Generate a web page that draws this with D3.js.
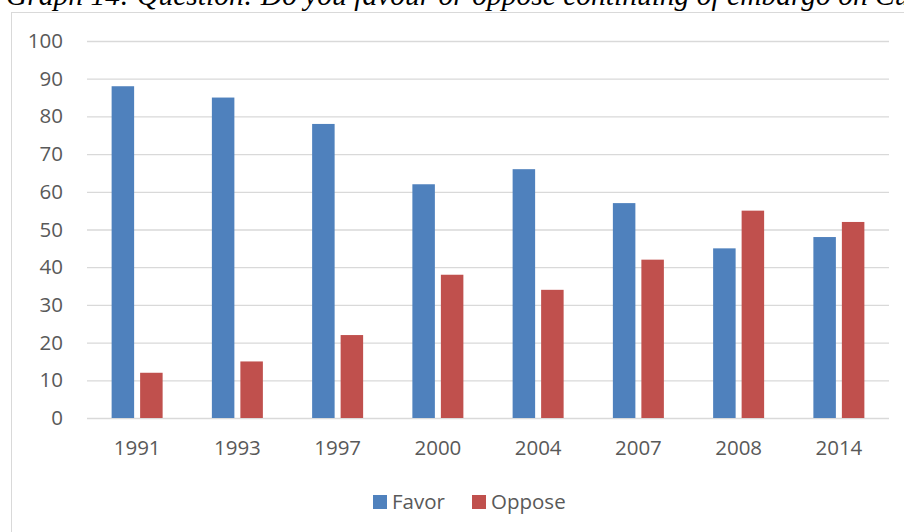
<!DOCTYPE html>
<html><head><meta charset="utf-8">
<script src="https://cdn.jsdelivr.net/npm/d3@7"></script>
<style>body{margin:0;background:#fff;}svg{display:block;}</style>
</head><body>
<svg id="c" width="904" height="532"></svg>
<script>
const title = "Graph 14: Question: Do you favour or oppose continuing of embargo on Cuba?";
const categories = ["1991","1993","1997","2000","2004","2007","2008","2014"];
const favor = [88,85,78,62,66,57,45,48];
const oppose = [12,15,22,38,34,42,55,52];
const seriesNames = ["Favor","Oppose"];
const colors = ["#4f81bd","#c0504d"];
const yTicks = [0,10,20,30,40,50,60,70,80,90,100];

const svg = d3.select("#c");
svg.append("rect").attr("x",11.5).attr("y",12.5).attr("width",1000).attr("height",600)
  .attr("fill","#fff").attr("stroke","#d9d9d9").attr("stroke-width",1);

svg.append("text").attr("x",6).attr("y",5).text(title)
  .attr("font-family","'Liberation Serif','Times New Roman',serif").attr("font-style","italic")
  .attr("font-size",29.5).attr("fill","#000");

const x = d3.scaleBand().domain(categories).range([87,889]);
const y = d3.scaleLinear().domain([0,100]).range([418,41]);
const barW = 22.5, gap = 6;

const grid = svg.append("g");
grid.selectAll("line").data(yTicks).join("line")
  .attr("x1",87).attr("x2",889).attr("y1",d=>y(d)+0.5).attr("y2",d=>y(d)+0.5)
  .attr("stroke","#d9d9d9").attr("stroke-width",1.3);

const fs = 20.5;
const yAxis = svg.append("g").attr("transform","translate(63,0)")
  .call(d3.axisLeft(y).tickValues(yTicks).tickSize(0).tickPadding(0));
yAxis.select(".domain").remove();
yAxis.selectAll("text").attr("font-family","'Open Sans',sans-serif").attr("font-size",fs).attr("fill","#595959");

const xAxis = svg.append("g").attr("transform","translate(0,418)")
  .call(d3.axisBottom(x).tickSize(0).tickPadding(22));
xAxis.select(".domain").remove();
xAxis.selectAll("text").attr("font-family","'Open Sans',sans-serif").attr("font-size",fs).attr("fill","#595959");

const data = [favor, oppose];
data.forEach((vals,si)=>{
  svg.append("g").selectAll("rect").data(vals).join("rect")
    .attr("x",(d,i)=>x(categories[i])+x.bandwidth()/2 + (si===0 ? -gap/2-barW : gap/2))
    .attr("width",barW)
    .attr("y",d=>y(d)).attr("height",d=>y(0)-y(d))
    .attr("fill",colors[si]);
});

const leg = svg.append("g");
const legX = [373, 472];
seriesNames.forEach((n,i)=>{
  leg.append("rect").attr("x",legX[i]).attr("y",495).attr("width",14).attr("height",14).attr("fill",colors[i]);
  leg.append("text").attr("x",legX[i]+19).attr("y",502).attr("dy","0.35em").text(n)
    .attr("font-family","'Open Sans',sans-serif").attr("font-size",fs).attr("fill","#595959");
});
</script>
</body></html>
